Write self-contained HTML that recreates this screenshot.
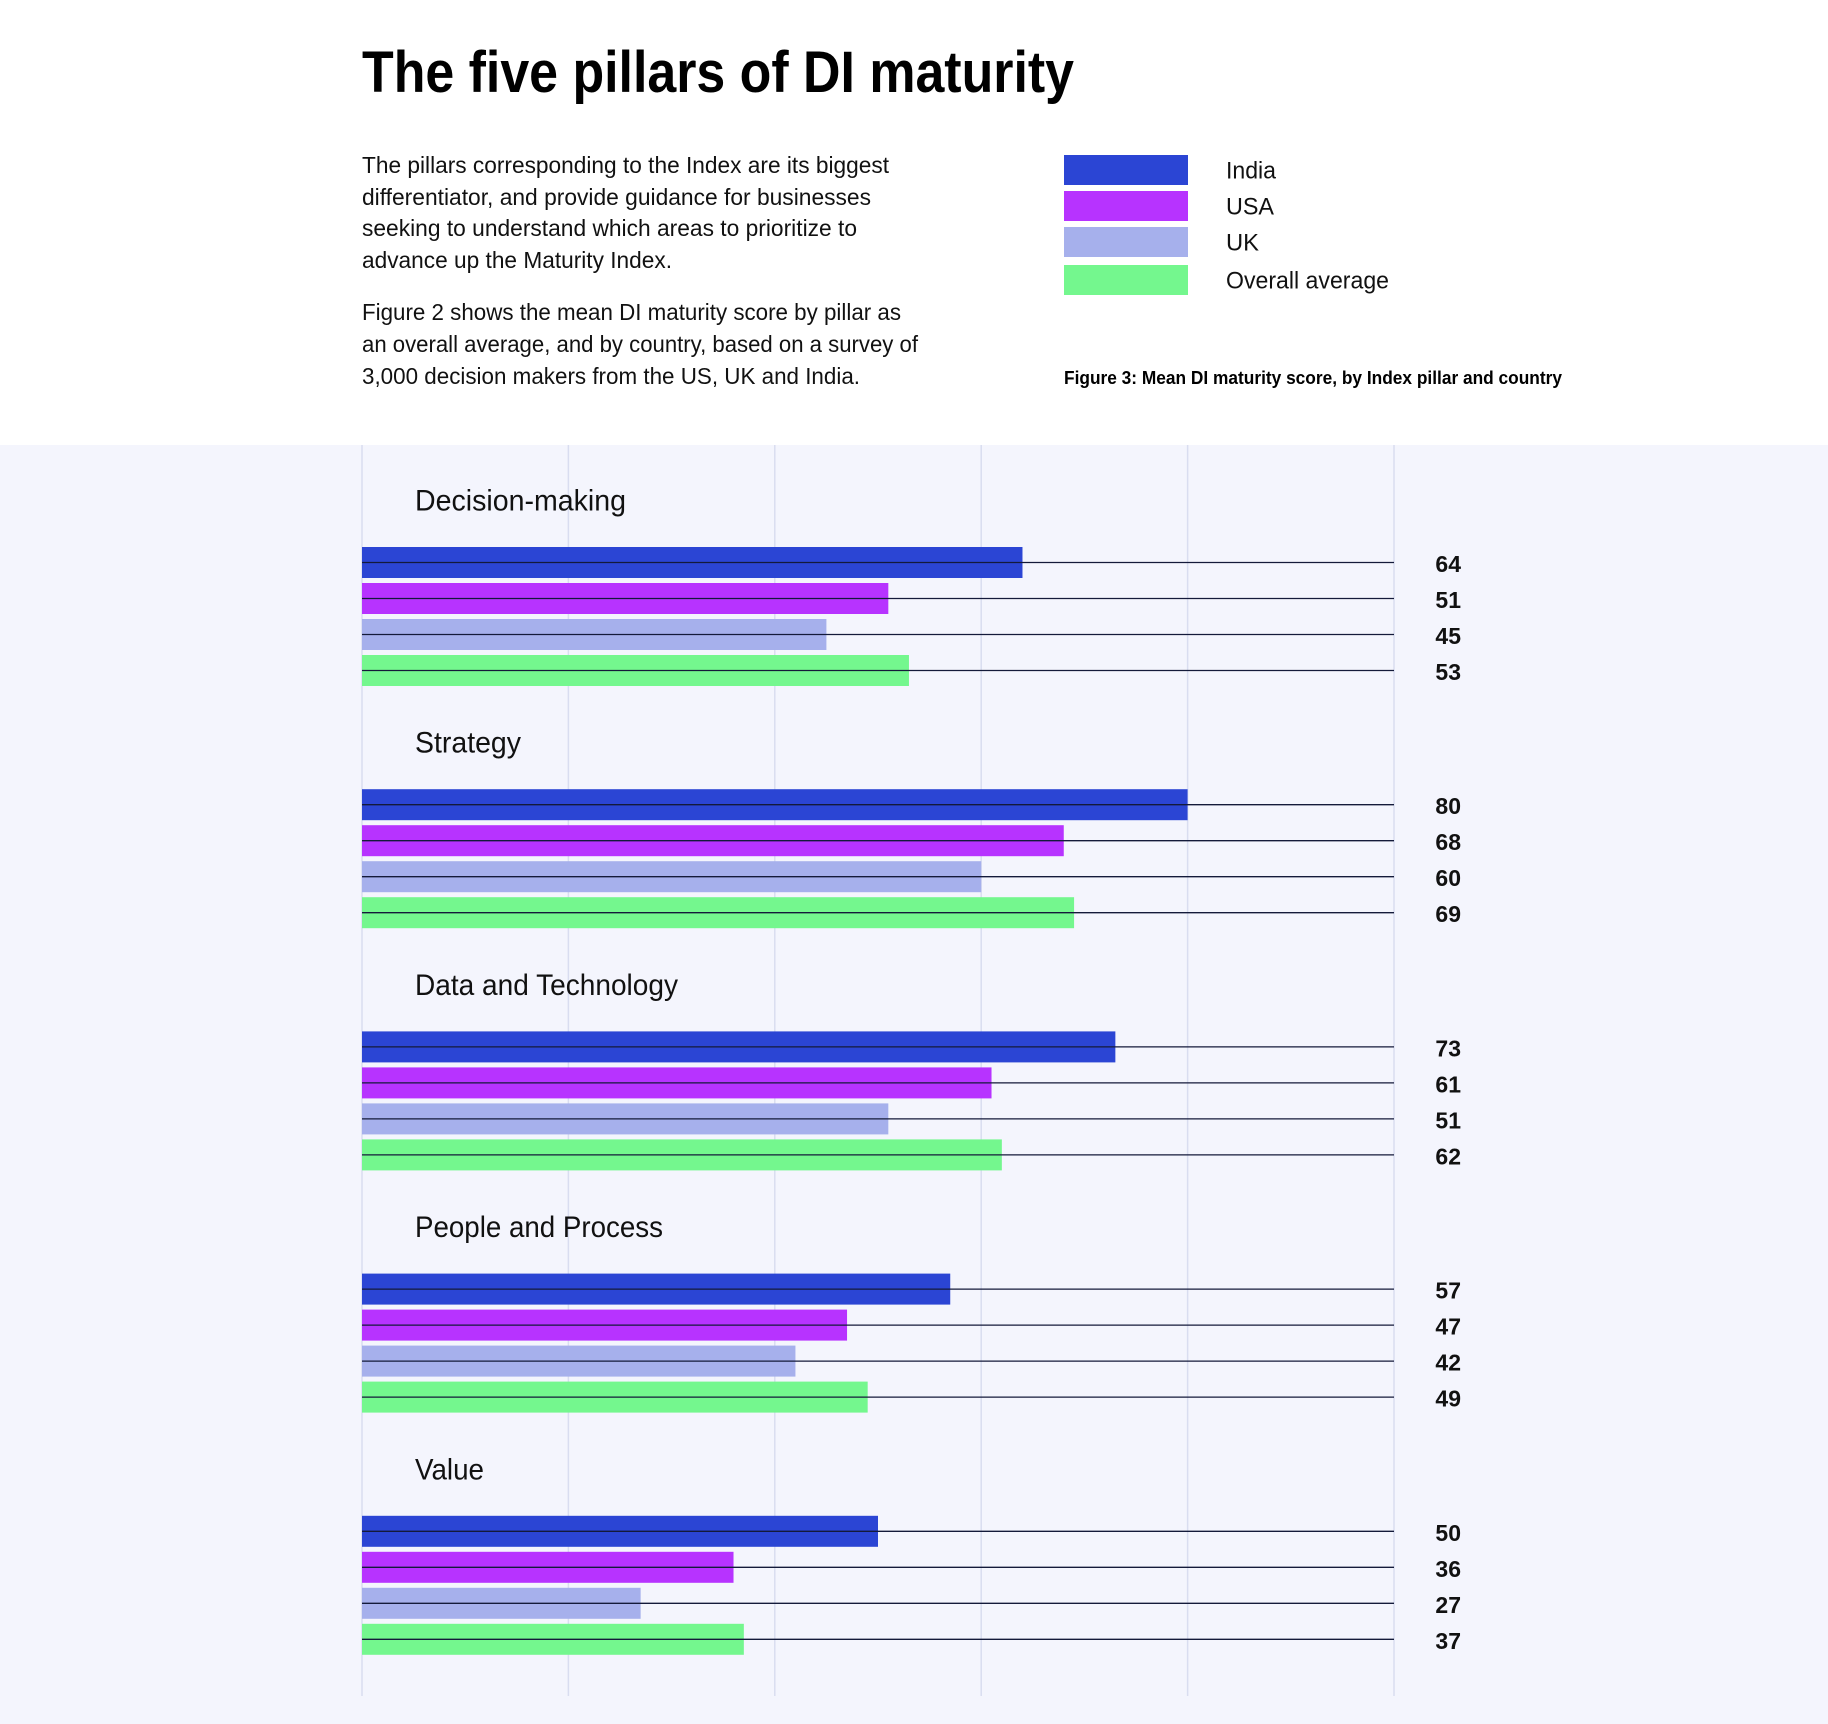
<!DOCTYPE html>
<html><head><meta charset="utf-8"><style>
html,body{margin:0;padding:0;background:#fff}
svg{display:block}
text{font-family:"Liberation Sans",sans-serif}
</style></head><body>
<svg id="c" width="1828" height="1724" viewBox="0 0 1828 1724" xmlns="http://www.w3.org/2000/svg">
<rect x="0" y="0" width="1828" height="1724" fill="#fff"/>
<rect x="0" y="445" width="1828" height="1279" fill="#f4f5fd"/>
<text x="362" y="92" font-size="58" font-weight="bold" textLength="712" lengthAdjust="spacingAndGlyphs" fill="#000">The five pillars of DI maturity</text>
<g font-size="23" fill="#111">
<text x="362" y="173" textLength="527" lengthAdjust="spacingAndGlyphs">The pillars corresponding to the Index are its biggest</text>
<text x="362" y="205" textLength="509" lengthAdjust="spacingAndGlyphs">differentiator, and provide guidance for businesses</text>
<text x="362" y="236" textLength="495" lengthAdjust="spacingAndGlyphs">seeking to understand which areas to prioritize to</text>
<text x="362" y="268" textLength="310" lengthAdjust="spacingAndGlyphs">advance up the Maturity Index.</text>
</g>
<g font-size="23" fill="#111">
<text x="362" y="320" textLength="539" lengthAdjust="spacingAndGlyphs">Figure 2 shows the mean DI maturity score by pillar as</text>
<text x="362" y="352" textLength="556" lengthAdjust="spacingAndGlyphs">an overall average, and by country, based on a survey of</text>
<text x="362" y="384" textLength="498" lengthAdjust="spacingAndGlyphs">3,000 decision makers from the US, UK and India.</text>
</g>
<g id="legend"></g>
<text x="1064" y="384" font-size="18" font-weight="bold" textLength="498" lengthAdjust="spacingAndGlyphs" fill="#000">Figure 3: Mean DI maturity score, by Index pillar and country</text>
<g id="plot"></g>
</svg>
<script>
const pillars = ["Decision-making","Strategy","Data and Technology","People and Process","Value"];
const seriesNames = ["India","USA","UK","Overall average"];
const india = [64,80,73,57,50];
const usa = [51,68,61,47,36];
const uk = [45,60,51,42,27];
const overall = [53,69,62,49,37];
const gridTicks = [0,20,40,60,80,100];

const colors = ["#2b45d4","#b733ff","#a6b0ec","#74f78e"];
const series = [india,usa,uk,overall];
const titleLens = [211,106,263,248,69];
const legendLens = [50,48,33,163];
const NS="http://www.w3.org/2000/svg";
const X0=362, PX=10.32;
const xScale = v => X0 + v*PX;
const groupTop = i => 547 + i*242.2;
const rowTop = (g,r) => groupTop(g) + r*36;
function mk(tag, attrs, parent){const e=document.createElementNS(NS,tag);for(const k in attrs)e.setAttribute(k,attrs[k]);parent.appendChild(e);return e;}
const plot=document.getElementById('plot');
const legend=document.getElementById('legend');

gridTicks.forEach(t=>{
  const l=mk('line',{x1:xScale(t),x2:xScale(t),y1:445,y2:1696,stroke:'#d9ddf0','stroke-width':1.5},plot);
  
  
});

pillars.forEach((p,g)=>{
  const t=mk('text',{x:415,y:groupTop(g)-46,'font-size':30,fill:'#111','dominant-baseline':'central',textLength:titleLens[g],lengthAdjust:'spacingAndGlyphs'},plot);
  t.textContent=p;
  
  
  series.forEach((s,r)=>{
    const y=rowTop(g,r);
    const b=mk('rect',{x:X0,y:y,width:xScale(s[g])-X0,height:31,fill:colors[r]},plot);
    
    
    const ln=mk('line',{x1:X0,x2:xScale(100),y1:y+15.5,y2:y+15.5,stroke:'#141a3a','stroke-width':1.3},plot);
    
    
    const v=mk('text',{x:1461,y:y+17,'font-size':23,'font-weight':'bold','text-anchor':'end','dominant-baseline':'central',fill:'#111'},plot);
    v.textContent=s[g];
    
    
  });
});

const lgTops=[155,191,227,265];
seriesNames.forEach((n,i)=>{
  const r=mk('rect',{x:1064,y:lgTops[i],width:124,height:30,fill:colors[i]},legend);
  
  
  const t=mk('text',{x:1226,y:lgTops[i]+16,'font-size':24,fill:'#111','dominant-baseline':'central',textLength:legendLens[i],lengthAdjust:'spacingAndGlyphs'},legend);
  t.textContent=n;
  
  
});
</script>
</body></html>
